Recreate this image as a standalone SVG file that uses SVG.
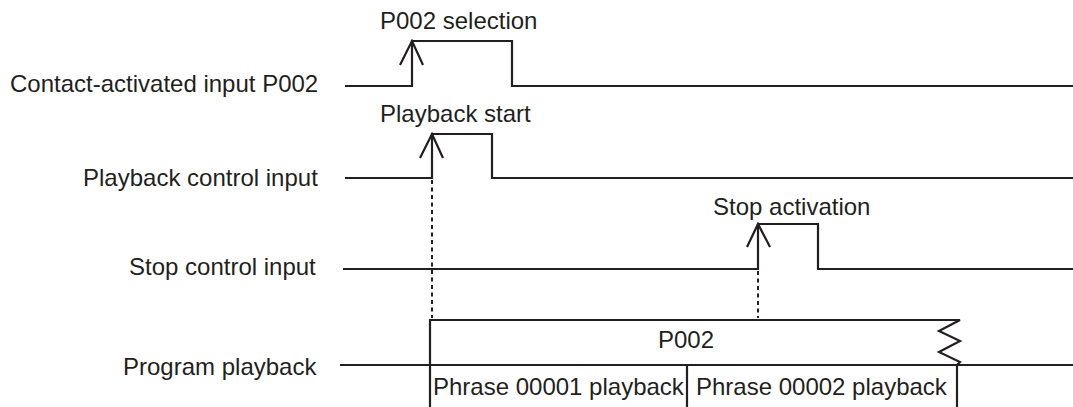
<svg xmlns="http://www.w3.org/2000/svg" width="1073" height="407" viewBox="0 0 1073 407">
<style>
.t{font-family:"Liberation Sans",Arial,sans-serif;font-size:24px;fill:#231f20}
.w{fill:none;stroke:#231f20;stroke-width:2.2;stroke-linejoin:miter}
.d{fill:none;stroke:#231f20;stroke-width:2;stroke-dasharray:4 3.5}
</style>
<rect width="1073" height="407" fill="#fff"/>
<g id="labels">
<text class="t" x="10" y="92">Contact-activated input P002</text>
<text class="t" x="83" y="186">Playback control input</text>
<text class="t" x="129" y="275">Stop control input</text>
<text class="t" x="123" y="375">Program playback</text>
</g>
<g id="contact-input">
<path class="w" d="M345,86 H412 V41 H512 V86 H1073"/>
<path class="w" d="M400,65 L412,41 L423,65"/>
<text class="t" x="380" y="29">P002 selection</text>
</g>
<g id="playback-input">
<path class="w" d="M345,178 H432 V134 H492 V178 H1073"/>
<path class="w" d="M420,158 L432,134 L443,158"/>
<text class="t" x="380" y="122">Playback start</text>
</g>
<g id="stop-input">
<path class="w" d="M343,269 H758 V224 H818 V269 H1073"/>
<path class="w" d="M747,247 L758,224 L770,247"/>
<text class="t" x="713" y="215">Stop activation</text>
</g>
<g id="program-playback">
<path class="w" d="M340,365 H1073"/>
<path class="w" d="M430,407 V320 H960 L939,331 L960,341 L939,352 L960,362 L957,365 V407"/>
<path class="w" d="M687,365 V407"/>
<text class="t" x="658" y="348">P002</text>
<text class="t" x="433" y="395">Phrase 00001 playback</text>
<text class="t" x="696" y="395">Phrase 00002 playback</text>
</g>
<g id="connectors">
<path class="d" d="M432,180 V318"/>
<path class="d" d="M758,271 V318"/>
</g>
</svg>
